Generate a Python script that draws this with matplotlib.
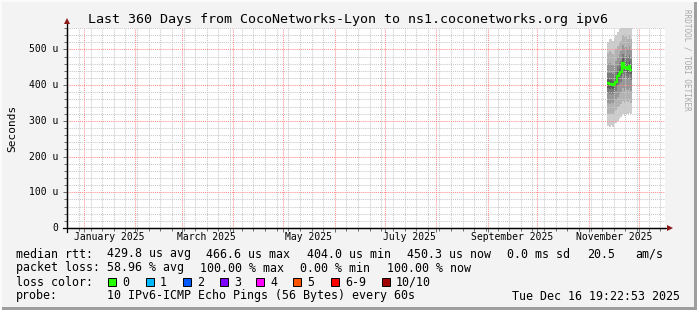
#!/usr/bin/env python3
# -*- coding: utf-8 -*-

import datetime as dt

import matplotlib
matplotlib.use("Agg")
import matplotlib.dates as mdates
from matplotlib import pyplot as plt
from matplotlib.patches import Rectangle

# --- data ---------------------------------------------------------------
end_time = dt.datetime(2025, 12, 16, 19, 22, 53)
start_time = end_time - dt.timedelta(days=360)

# one rrd step per day, values in microseconds
first_day = dt.datetime(2025, 11, 12)
median_rtt = [405, 402, 404, 400, 402, 410, 425, 432, 438, 462, 448, 452, 446, 455, 442]
smoke_hi0 = [522, 530, 528, 525, 533, 540, 550, 556, 565, 580, 575, 578, 570, 580, 565]
smoke_lo0 = [285, 282, 288, 284, 290, 295, 300, 305, 312, 318, 315, 320, 318, 322, 318]
smoke_hi1 = [490, 495, 492, 488, 495, 500, 510, 518, 525, 540, 535, 538, 530, 540, 528]
smoke_lo1 = [320, 318, 322, 320, 325, 330, 338, 342, 348, 355, 350, 356, 352, 358, 350]
smoke_hi2 = [460, 462, 460, 456, 462, 468, 480, 488, 495, 512, 505, 508, 500, 510, 498]
smoke_lo2 = [350, 348, 352, 350, 352, 358, 368, 375, 380, 392, 385, 390, 386, 392, 385]
smoke_hi3 = [435, 434, 434, 430, 434, 440, 455, 462, 468, 488, 478, 482, 475, 485, 472]
smoke_lo3 = [378, 375, 378, 374, 378, 385, 398, 404, 410, 432, 420, 425, 418, 428, 415]
smoke_hi4 = [418, 415, 416, 413, 415, 423, 438, 445, 451, 475, 461, 465, 459, 468, 455]
smoke_lo4 = [393, 390, 392, 388, 390, 398, 412, 420, 426, 450, 436, 440, 434, 443, 430]

rtt_labels = ["429.8 us avg", "466.6 us max", "404.0 us min", "450.3 us now",
              "0.0 ms sd", "20.5", "am/s"]
loss_labels = ["58.96 % avg", "100.00 % max", "0.00 % min", "100.00 % now"]
loss_names = ["0", "1", "2", "3", "4", "5", "6-9", "10/10"]
loss_colors = ["#26ff00", "#00b8ff", "#0059ff", "#7e00ff", "#ff00ff",
               "#ff5500", "#ff0000", "#a10000"]
probe_text = "10 IPv6-ICMP Echo Pings (56 Bytes) every 60s"
stamp_text = "Tue Dec 16 19:22:53 2025"
title = "Last 360 Days from CocoNetworks-Lyon to ns1.coconetworks.org ipv6"

# --- layout -------------------------------------------------------------
W, H = 697, 310
MONO = "DejaVu Sans Mono"
fig = plt.figure(figsize=(W / 100, H / 100), dpi=100)
fig.patch.set_facecolor("#f3f3f3")


def fx(px):
    return px / W


def fy(py):
    return 1 - py / H


# frame shading
fig.add_artist(Rectangle((fx(0), fy(H)), fx(W), 3 / H, transform=fig.transFigure,
                         color="#9e9e9e", lw=0))
fig.add_artist(Rectangle((fx(W - 3), fy(H)), 3 / W, 1, transform=fig.transFigure,
                         color="#9e9e9e", lw=0))
fig.add_artist(Rectangle((0, fy(2)), 1, 2 / H, transform=fig.transFigure,
                         color="#fbfbfb", lw=0))
fig.add_artist(Rectangle((0, 0), 2 / W, 1, transform=fig.transFigure,
                         color="#fbfbfb", lw=0))

ax = fig.add_axes([fx(67), fy(228), fx(665) - fx(67), (228 - 28) / H])
ax.set_facecolor("white")

edges = mdates.date2num([first_day + dt.timedelta(days=i) for i in range(len(median_rtt) + 1)])
bands = [(smoke_lo0, smoke_hi0, "#cdcdcd"),
         (smoke_lo1, smoke_hi1, "#b2b2b2"),
         (smoke_lo2, smoke_hi2, "#979797"),
         (smoke_lo3, smoke_hi3, "#7a7a7a"),
         (smoke_lo4, smoke_hi4, "#5c5c5c")]
for lo, hi, col in bands:
    ax.stairs(hi, edges, baseline=lo, fill=True, color=col, lw=0, zorder=1)
ax.stairs(median_rtt, edges, baseline=None, color="#26ff00", lw=1.6, zorder=3)

ax.set_xlim(mdates.date2num(start_time), mdates.date2num(end_time))
ax.set_ylim(0, 560)

# grid
ax.xaxis.set_major_locator(mdates.MonthLocator())
ax.xaxis.set_minor_locator(mdates.WeekdayLocator(byweekday=mdates.SU))
ax.yaxis.set_major_locator(plt.MultipleLocator(100))
ax.yaxis.set_minor_locator(plt.MultipleLocator(20))
ax.grid(which="minor", color="#c8c8c8", lw=0.75, ls=(0, (1, 1)), zorder=2)
ax.grid(which="major", color="#ff8c8c", lw=0.75, ls=(0, (1, 1)), zorder=2)
ax.set_axisbelow(False)

ax.set_xticklabels([])
ax.set_yticklabels([])
ax.tick_params(which="both", direction="out", length=2, width=0.6, color="#555555")
ax.tick_params(which="major", length=3)
for s in ["top", "right"]:
    ax.spines[s].set_visible(False)
for s in ["left", "bottom"]:
    ax.spines[s].set_color("black")
    ax.spines[s].set_linewidth(0.9)

# axis arrows
fig.add_artist(plt.Line2D([fx(67), fx(67)], [fy(232), fy(24)], color="black", lw=0.9))
fig.add_artist(plt.Line2D([fx(63), fx(670)], [fy(228), fy(228)], color="black", lw=0.9))
fig.add_artist(plt.Line2D([fx(67)], [fy(21)], marker="^", ms=5, color="#8b1a1a", mew=0))
fig.add_artist(plt.Line2D([fx(670)], [fy(228)], marker=">", ms=5, color="#8b1a1a", mew=0))

# x labels: every second month, centred mid-month
for m in [1, 3, 5, 7, 9, 11]:
    t = dt.datetime(2025, m, 16)
    ax.text(mdates.date2num(t), -9 / 200 * 560, t.strftime("%B %Y"), ha="center",
            va="center", fontsize=7, family=MONO, clip_on=False)

# y labels
x0, x1 = ax.get_xlim()
for v in range(0, 600, 100):
    ax.text(x0 - 9 / 598 * (x1 - x0), v, "0" if v == 0 else f"{v} u", ha="right",
            va="center", fontsize=7, family=MONO, clip_on=False)

fig.text(fx(12), fy(128), "Seconds", rotation=90, ha="center", va="center",
         fontsize=8, family=MONO)
fig.text(fx(348), fy(19), title, ha="center", va="center", fontsize=9.6, family=MONO)
fig.text(fx(687), fy(60), "RRDTOOL / TOBI OETIKER", rotation=270, ha="center",
         va="center", fontsize=5.5, family=MONO, color="#a8a8a8")

# legend
LF = 8.4
fig.text(fx(16), fy(254), "median rtt:", va="center", fontsize=LF, family=MONO)
for x, s in zip([107, 206, 307, 407, 507, 587, 635], rtt_labels):
    fig.text(fx(x), fy(254), s, va="center", fontsize=LF, family=MONO)
fig.text(fx(16), fy(268), "packet loss:", va="center", fontsize=LF, family=MONO)
for x, s in zip([107, 200, 300, 387], loss_labels):
    fig.text(fx(x), fy(268), s, va="center", fontsize=LF, family=MONO)
fig.text(fx(16), fy(282), "loss color:", va="center", fontsize=LF, family=MONO)
for x, s, c in zip([108, 146, 183, 220, 256, 293, 331, 382], loss_names, loss_colors):
    fig.add_artist(Rectangle((fx(x), fy(286)), 8 / W, 8 / H, transform=fig.transFigure,
                             facecolor=c, edgecolor="black", lw=0.7))
    fig.text(fx(x + 14), fy(282), s, va="center", fontsize=LF, family=MONO)
fig.text(fx(16), fy(296), "probe:", va="center", fontsize=LF, family=MONO)
fig.text(fx(107), fy(296), probe_text, va="center", fontsize=LF, family=MONO)
fig.text(fx(680), fy(296), stamp_text, va="center", ha="right", fontsize=LF, family=MONO)

fig.savefig("out.png", dpi=100, facecolor=fig.get_facecolor())
